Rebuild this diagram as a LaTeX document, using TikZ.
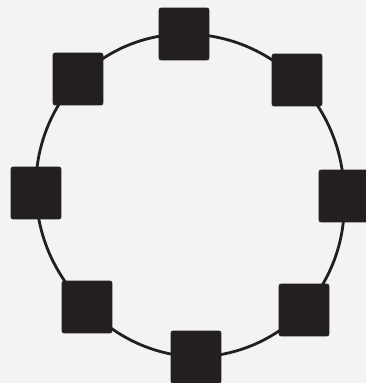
\documentclass[tikz,border=0pt]{standalone}
\usepackage{tikz}
\usetikzlibrary{positioning,calc,backgrounds}
\usepackage{xcolor}
\definecolor{ink}{HTML}{231F20}
\definecolor{paper}{HTML}{F3F3F2}

\begin{document}
\begin{tikzpicture}[x=0.02cm,y=0.02cm,
    station/.style={fill=ink,draw=ink,rounded corners=1.2pt,inner sep=0pt,
                    minimum width=1.0cm,minimum height=1.04cm},
    ring/.style={draw=ink,line width=1.6pt},
    arc/.style={bend right=22.5,looseness=0.89}]
                    \clip (0,0) rectangle (366,383);

                    % 8 stations
                    \node[station] (top) at (184,349) {};
                    \node[station] (tr)  at (297,303) {};
                    \node[station] (r)   at (344,187) {};
                    \node[station] (br)  at (304,73)  {};
                    \node[station] (bot) at (196,26)  {};
                    \node[station] (bl)  at (87,76)   {};
                    \node[station] (l)   at (36,190)  {};
                    \node[station] (tl)  at (78,304)  {};

                    \begin{scope}[on background layer]
                    % paper
                    \fill[paper] (0,0) rectangle (366,383);
                    % ring
                    \draw[ring] (r.center) to[arc] (tr.center)
                                    to[arc] (top.center)
                                    to[arc] (tl.center)
                                    to[arc] (l.center)
                                    to[arc] (bl.center)
                                    to[arc] (bot.center)
                                    to[arc] (br.center)
                                    to[arc] (r.center);
                    \end{scope}
\end{tikzpicture}
\end{document}
